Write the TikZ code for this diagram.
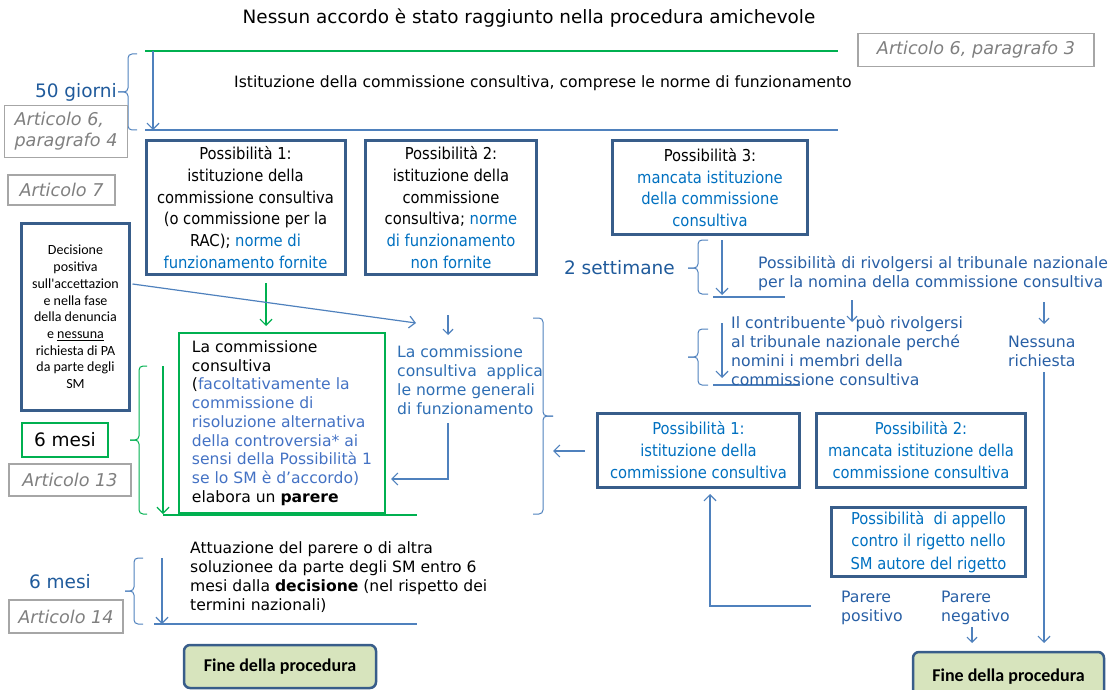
\documentclass[tikz,border=0pt]{standalone}
\usepackage{fontspec}
\setmainfont{DejaVu Sans}
\newfontfamily\tahfont{DejaVu Sans Condensed}
\newfontfamily\calfont{Carlito}
\usetikzlibrary{arrows.meta,calc}
\definecolor{boxblue}{RGB}{56,93,138}
\definecolor{lineblue}{RGB}{79,129,189}
\definecolor{grn}{RGB}{0,176,80}
\definecolor{txtblue}{RGB}{0,112,192}
\definecolor{gbblue}{RGB}{68,114,196}
\definecolor{appblue}{RGB}{46,110,180}
\definecolor{rblue}{RGB}{40,95,165}
\definecolor{darkblue}{RGB}{31,90,155}
\definecolor{artgray}{RGB}{127,127,127}
\definecolor{artborder}{RGB}{166,166,166}
\definecolor{finefill}{RGB}{215,228,189}
\begin{document}
\begin{tikzpicture}[x=1pt,y=-1pt,
  possbox/.style={draw=boxblue, line width=3pt, inner sep=0pt, align=center, font=\tahfont\fontsize{16.4}{21.8}\selectfont},
  artbox/.style={draw=artborder, line width=1.2pt, inner sep=0pt, text=artgray, align=left, font=\itshape\fontsize{17.6}{21}\selectfont},
  finebox/.style={draw=boxblue, line width=2.5pt, rounded corners=6pt, fill=finefill, inner sep=0pt, font=\calfont\bfseries\fontsize{18}{21}\selectfont},
  arr/.style={draw=lineblue, line width=1.2pt, -{Straight Barb[length=6pt,width=12pt]}},
  sarr/.style={draw=lineblue, line width=1.2pt, -{Straight Barb[length=5pt,width=10pt]}},
  garr/.style={arr, draw=grn},
  ln/.style={draw=lineblue, line width=1.2pt},
  gln/.style={draw=grn, line width=1.2pt},
  brc/.style={draw=lineblue, line width=1pt, rounded corners=4pt},
  gbrc/.style={brc, draw=grn},
  vtext/.style={inner sep=0pt, align=left, font=\fontsize{15.6}{18.7}\selectfont},
  rtext/.style={inner sep=0pt, align=left, text=rblue, font=\fontsize{15.7}{19}\selectfont},
  bigblue/.style={inner sep=0pt, text=darkblue, font=\fontsize{18.5}{22}\selectfont}
]
\useasboundingbox (0,0) rectangle (1112,690);

% ---- top
\node[inner sep=0pt, font=\fontsize{18.4}{22}\selectfont, anchor=base] (title) at (529,24) {Nessun accordo è stato raggiunto nella procedura amichevole};
\node[artbox, align=center, minimum width=236pt, minimum height=33pt] (a6p3) at (976,50) {Articolo 6, paragrafo 3};
\coordinate (g1) at (145,51); \coordinate (g2) at (838,51);
\draw[gln] (g1) -- (g2);
\coordinate (b1) at (145,130); \coordinate (b2) at (838,130);
\draw[ln] (b1) -- (b2);
\coordinate (a1s) at (153,51); \coordinate (a1e) at (153,130);
\draw[arr] (a1s) -- (a1e);
\draw[brc] (137,54) -- (128,54) -- (128,92) -- (118,92);
\draw[brc] (118,92) -- (128,92) -- (128,130) -- (137,130);
\node[bigblue, anchor=east] (g50) at (117,92) {50 giorni};
\node[artbox, minimum width=123pt, minimum height=52pt] (a6p4) at (66,131.5) {Articolo 6,\\paragrafo 4};
\node[vtext, anchor=base west] (isti) at (234,88) {Istituzione della commissione consultiva, comprese le norme di funzionamento};
\node[artbox, minimum width=107pt, minimum height=30pt] (a7) at (61.5,190) {Articolo 7};

% ---- possibilities
\node[possbox, minimum width=199pt, minimum height=133pt] (p1) at (245.5,207.5) {Possibilità 1:\\istituzione della\\commissione consultiva\\(o commissione per la\\RAC); \textcolor{txtblue}{norme di}\\\textcolor{txtblue}{funzionamento fornite}};
\node[possbox, minimum width=171pt, minimum height=133pt] (p2) at (451,207.5) {Possibilità 2:\\istituzione della\\commissione\\consultiva; \textcolor{txtblue}{norme}\\\textcolor{txtblue}{di funzionamento}\\\textcolor{txtblue}{non fornite}};
\node[possbox, minimum width=195pt, minimum height=94pt] (p3) at (710,187.5) {Possibilità 3:\\\textcolor{txtblue}{mancata istituzione}\\\textcolor{txtblue}{della commissione}\\\textcolor{txtblue}{consultiva}};

\node[possbox, font=\calfont\fontsize{14}{16.7}\selectfont, minimum width=108pt, minimum height=187pt] (dec) at (75.5,317) {Decisione\\positiva\\sull'accettazion\\e nella fase\\della denuncia\\e \underline{nessuna}\\richiesta di PA\\da parte degli\\SM};

\coordinate (gas) at (266,283); \coordinate (gae) at (266,326);
\draw[garr] (gas) -- (gae);
\coordinate (dae) at (416,323);
\draw[arr] ($(dec.north east)+(1.5,62)$) -- (dae);

% ---- green box
\node[draw=grn, line width=1.5pt, minimum width=206pt, minimum height=180pt, inner sep=0pt, align=left, font=\fontsize{15.6}{18.7}\selectfont] (gb) at (282,423) {La commissione\\consultiva\\(\textcolor{gbblue}{facoltativamente la}\\\textcolor{gbblue}{commissione di}\\\textcolor{gbblue}{risoluzione alternativa}\\\textcolor{gbblue}{della controversia* ai}\\\textcolor{gbblue}{sensi della Possibilità 1}\\\textcolor{gbblue}{se lo SM è d'accordo)}\\elabora un \textbf{parere}};
\draw[gbrc] (147,366) -- (139,366) -- (139,440) -- (130,440);
\draw[gbrc] (130,440) -- (139,440) -- (139,514) -- (147,514);
\coordinate (ga2s) at (163,366); \coordinate (ga2e) at (163,514);
\draw[garr] (ga2s) -- (ga2e);
\coordinate (gl3a) at (163,515); \coordinate (gl3b) at (417,515);
\draw[gln] (gl3a) -- (gl3b);
\node[draw=grn, line width=1.2pt, minimum width=86pt, minimum height=34pt, inner sep=0pt, font=\fontsize{18.5}{20}\selectfont] (m6a) at (65,440) {6 mesi};
\node[artbox, minimum width=122pt, minimum height=32pt] (a13) at (70,480) {Articolo 13};

% ---- applica
\node[vtext, text=appblue, anchor=base west] (appl) at (397,414) {La commissione\\consultiva\ \ applica\\le norme generali\\di funzionamento};
\coordinate (ap0s) at (448,315); \coordinate (ap0e) at (448,335);
\draw[sarr] (ap0s) -- (ap0e);
\coordinate (ap1) at (448,423); \coordinate (ap2) at (391,479);
\draw[arr] (ap1) |- (ap2);
\draw[brc] (533,318) -- (543,318) -- (543,416) -- (553,416);
\draw[brc] (553,416) -- (543,416) -- (543,514) -- (533,514);
\coordinate (la1) at (585,451); \coordinate (la2) at (553,451);
\draw[arr] (la1) -- (la2);

% ---- right side
\node[bigblue, anchor=east] (s2) at (675,268) {2 settimane};
\draw[brc] (708,240) -- (698,240) -- (698,268) -- (688,268);
\draw[brc] (688,268) -- (698,268) -- (698,294) -- (708,294);
\coordinate (a2s) at (722,240); \coordinate (a2e) at (722,295);
\draw[arr] (a2s) -- (a2e);
\coordinate (l2a) at (713,297); \coordinate (l2b) at (785,297);
\draw[ln] (l2a) -- (l2b);
\node[rtext, anchor=base west] (riv) at (758,287) {Possibilità di rivolgersi al tribunale nazionale\\per la nomina della commissione consultiva};
\coordinate (sa1s) at (852,300); \coordinate (sa1e) at (852,322);
\draw[sarr] (sa1s) -- (sa1e);
\coordinate (sa2s) at (1044,302); \coordinate (sa2e) at (1044,324);
\draw[sarr] (sa2s) -- (sa2e);
\node[rtext, anchor=base west] (ness) at (1008,366) {Nessuna\\richiesta};
\coordinate (nl1) at (1044,372); \coordinate (nl2) at (1044,643);
\draw[arr] (nl1) -- (nl2);

\draw[brc] (708,329) -- (698,329) -- (698,357) -- (688,357);
\draw[brc] (688,357) -- (698,357) -- (698,385) -- (708,385);
\coordinate (a3s) at (722,323); \coordinate (a3e) at (722,378);
\draw[arr] (a3s) -- (a3e);
\coordinate (l3a) at (713,385); \coordinate (l3b) at (800,385);
\draw[ln] (l3a) -- (l3b);
\node[rtext, anchor=base west] (contr) at (731,385) {Il contribuente\ \ può rivolgersi\\al tribunale nazionale perché\\nomini i membri della\\commissione consultiva};

\node[possbox, text=txtblue, font=\tahfont\fontsize{16.4}{22}\selectfont, minimum width=202pt, minimum height=74pt] (rp1) at (698.5,450.5) {Possibilità 1:\\istituzione della\\commissione consultiva};
\node[possbox, text=txtblue, font=\tahfont\fontsize{16.4}{22}\selectfont, minimum width=209pt, minimum height=74pt] (rp2) at (921,450.5) {Possibilità 2:\\mancata istituzione della\\commissione consultiva};
\node[possbox, text=txtblue, font=\tahfont\fontsize{16.4}{22.5}\selectfont, minimum width=194pt, minimum height=69pt] (apl) at (928.5,542) {Possibilità\ \ di appello\\contro il rigetto nello\\SM autore del rigetto};

\coordinate (pp1) at (811,606); \coordinate (pp2) at (710,494);
\draw[arr] (pp1) -| (pp2);
\node[rtext, anchor=base west] (ppos) at (841,621) {Parere\\positivo};
\node[rtext, anchor=base west] (pneg) at (941,621) {Parere\\negativo};
\coordinate (sa3s) at (972,627); \coordinate (sa3e) at (972,643);
\draw[sarr] (sa3s) -- (sa3e);
\node[finebox, minimum width=191pt, minimum height=50pt] (fine2) at (1008.5,677) {Fine della procedura};

% ---- bottom left
\node[vtext, anchor=base west] (att) at (190,610) {Attuazione del parere o di altra\\soluzionee da parte degli SM entro 6\\mesi dalla \textbf{decisione} (nel rispetto dei\\termini nazionali)};
\draw[brc] (143,558) -- (134,558) -- (134,591) -- (125,591);
\draw[brc] (125,591) -- (134,591) -- (134,624) -- (143,624);
\coordinate (a4s) at (162,558); \coordinate (a4e) at (162,624);
\draw[arr] (a4s) -- (a4e);
\coordinate (l4a) at (154,624); \coordinate (l4b) at (417,624);
\draw[ln] (l4a) -- (l4b);
\node[bigblue] (m6b) at (60,582) {6 mesi};
\node[artbox, minimum width=114pt, minimum height=33pt] (a14) at (66,616.5) {Articolo 14};
\node[finebox, minimum width=192pt, minimum height=43pt] (fine1) at (280,666.5) {Fine della procedura};
\end{tikzpicture}
\end{document}
